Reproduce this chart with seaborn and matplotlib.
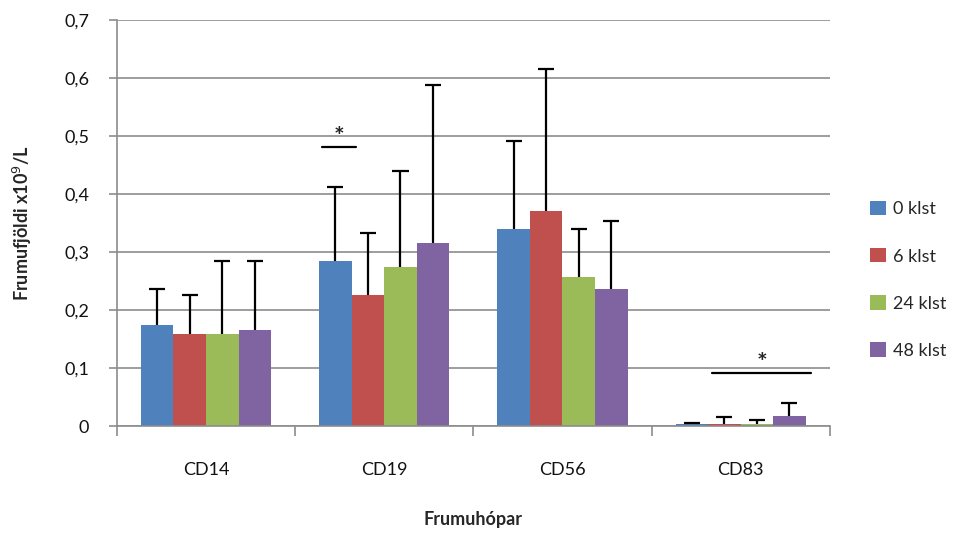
import matplotlib
matplotlib.use("Agg")
import matplotlib.pyplot as plt
import seaborn as sns
import pandas as pd
import numpy as np
from matplotlib.ticker import FuncFormatter, FixedLocator

categories = ["CD14", "CD19", "CD56", "CD83"]
series = ["0 klst", "6 klst", "24 klst", "48 klst"]
values = {
    "0 klst":  [0.174, 0.284, 0.340, 0.003],
    "6 klst":  [0.158, 0.226, 0.371, 0.004],
    "24 klst": [0.158, 0.274, 0.257, 0.004],
    "48 klst": [0.165, 0.316, 0.236, 0.018],
}
errors = {
    "0 klst":  [0.062, 0.128, 0.151, 0.002],
    "6 klst":  [0.068, 0.107, 0.245, 0.011],
    "24 klst": [0.126, 0.166, 0.083, 0.006],
    "48 klst": [0.119, 0.272, 0.117, 0.022],
}
colors = ["#4F81BD", "#C0504D", "#9BBB59", "#8064A2"]

rows = []
for s in series:
    for c, v, e in zip(categories, values[s], errors[s]):
        rows.append({"cat": c, "series": s, "val": v, "err": e})
df = pd.DataFrame(rows)

sns.set_theme(style="white")
plt.rcParams['font.family'] = ['Lato', 'DejaVu Sans']

FS = 13
fig = plt.figure(figsize=(9.66, 5.34), dpi=100)
ax = fig.add_axes([0.121, 0.2022, 0.738, 0.7603])

sns.barplot(data=df, x="cat", y="val", hue="series", order=categories,
            hue_order=series, palette=colors, width=0.73, errorbar=None,
            saturation=1, ax=ax, edgecolor="none", linewidth=0)

# error bars (plus direction only) placed at seaborn's bar positions
cap_half = 0.045
for container, s in zip(ax.containers, series):
    for p, e in zip(container.patches, errors[s]):
        xc = p.get_x() + p.get_width() / 2
        h = p.get_height()
        ax.vlines(xc, h, h + e, color="black", linewidth=1.6, zorder=5)
        ax.hlines(h + e, xc - cap_half, xc + cap_half, color="black", linewidth=1.6, zorder=5)

ax.set_ylim(0, 0.7)
ax.set_xlim(-0.5, 3.5)
ax.set_yticks(np.arange(0, 0.71, 0.1))
ax.yaxis.set_major_formatter(FuncFormatter(lambda v, p: ("%.1f" % v).replace(".", ",") if v > 0.001 else "0"))
ax.yaxis.grid(True, color="#8c8c8c", linewidth=1.2)
ax.set_axisbelow(True)

for sp in ["top", "right"]:
    ax.spines[sp].set_visible(False)
for sp in ["left", "bottom"]:
    ax.spines[sp].set_color("#8c8c8c")
    ax.spines[sp].set_linewidth(1.2)

ax.tick_params(axis="y", which="major", direction="out", length=6, width=1.2,
               color="#8c8c8c", left=True, labelsize=FS, pad=14, labelcolor="#111111")
ax.xaxis.set_minor_locator(FixedLocator([-0.5, 0.5, 1.5, 2.5, 3.5]))
ax.tick_params(axis="x", which="minor", direction="out", length=7, width=1.2,
               color="#8c8c8c", bottom=True)
ax.tick_params(axis="x", which="major", length=0, labelsize=FS, pad=26, labelcolor="#111111")

ax.set_xlabel("Frumuhópar", fontsize=FS, fontweight="bold", labelpad=24)
ax.set_ylabel("Frumufjöldi x10$^{9}$/L", fontsize=FS, fontweight="bold", labelpad=22)

# significance markers
ax.plot([0.65, 0.84], [0.481, 0.481], color="black", linewidth=1.6)
ax.text(0.745, 0.478, "*", ha="center", va="bottom", fontsize=18, fontweight="bold")
ax.plot([2.84, 3.395], [0.091, 0.091], color="black", linewidth=1.6)
ax.text(3.12, 0.088, "*", ha="center", va="bottom", fontsize=18, fontweight="bold")

leg = ax.legend(loc="center left", bbox_to_anchor=(1.034, 0.36), frameon=False,
                fontsize=FS, handlelength=0.85, handleheight=0.85,
                handletextpad=0.4, labelspacing=1.7)

fig.savefig("out.png", dpi=100)
